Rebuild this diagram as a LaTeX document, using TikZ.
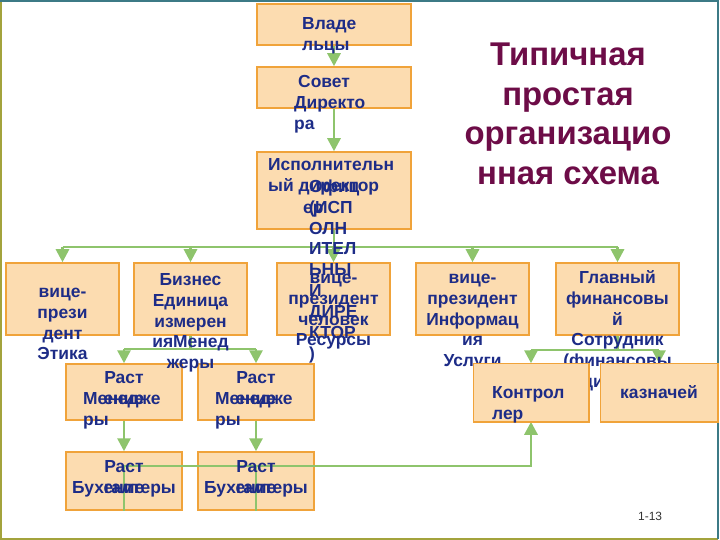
\documentclass[tikz,border=0pt]{standalone}
\usepackage{fontspec}
\setmainfont{Liberation Sans}
\usetikzlibrary{arrows.meta}
\definecolor{boxfill}{HTML}{FCDCB0}
\definecolor{boxline}{HTML}{F0A33A}
\definecolor{linkgreen}{HTML}{8EC46C}
\definecolor{txtblue}{HTML}{1D2C87}
\definecolor{ttlred}{HTML}{6D0C47}
\definecolor{frameA}{HTML}{3C7A86}
\definecolor{frameB}{HTML}{A3A33C}
\newcommand\sr{\rule{0pt}{14bp}}
\begin{document}
\begin{tikzpicture}[x=1bp,y=-1bp,
  box/.style={draw=boxline, fill=boxfill, line width=1.5bp, inner sep=0pt},
  txt/.style={text=txtblue, font=\bfseries\fontsize{17.5}{21}\selectfont, inner sep=0pt},
  link/.style={draw=linkgreen, line width=2.8bp},
  arr/.style={link, -{Triangle[width=13bp,length=13bp]}}]
\useasboundingbox (0,0) rectangle (720,540);
% frame
\draw[frameB, line width=2bp] (1,1) -- (1,538.5) -- (717.5,538.5);
\draw[frameA, line width=2bp] (0,1) -- (717.5,1) -- (717.5,538.5);
% boxes
\node[box, minimum width=154bp, minimum height=41bp] (own) at (334,24.5) {};
\node[box, minimum width=154bp, minimum height=41bp] (board) at (334,87.5) {};
\node[box, minimum width=154bp, minimum height=77bp] (exec) at (334,190.5) {};
\node[box, minimum width=113bp, minimum height=72bp] (vp1) at (62.5,299) {};
\node[box, minimum width=113bp, minimum height=72bp] (bu) at (190.5,299) {};
\node[box, minimum width=113bp, minimum height=72bp] (hr) at (333.5,299) {};
\node[box, minimum width=113bp, minimum height=72bp] (is) at (472.5,299) {};
\node[box, minimum width=123bp, minimum height=72bp] (cfo) at (617.5,299) {};
\node[box, minimum width=116bp, minimum height=56bp] (pm1) at (124,392) {};
\node[box, minimum width=116bp, minimum height=56bp] (pm2) at (256,392) {};
\node[box, minimum width=116bp, minimum height=58bp] (pa1) at (124,481) {};
\node[box, minimum width=116bp, minimum height=58bp] (pa2) at (256,481) {};
\node[box, minimum width=114bp, minimum height=57bp] (ctrl) at (531,392.5) {};
\node[box, minimum width=116bp, minimum height=57bp] (treas) at (659,392.5) {};
% connectors
\draw[arr] (own.south) -- (board.north);
\draw[arr] (board.south) -- (exec.north);
\coordinate (busA) at (334,247);
\draw[link] (exec.south) -- (busA);
\draw[link] (vp1.north |- busA) -- (cfo.north |- busA);
\foreach \n in {vp1,bu,hr,is,cfo} \draw[arr] (\n.north |- busA) -- (\n.north);
\coordinate (busB) at (190.5,349);
\draw[link] (bu.south) -- (busB);
\draw[link] (pm1.north |- busB) -- (pm2.north |- busB);
\draw[arr] (pm1.north |- busB) -- (pm1.north);
\draw[arr] (pm2.north |- busB) -- (pm2.north);
\coordinate (busC) at (617.5,350);
\draw[link] (cfo.south) -- (busC);
\draw[link] (ctrl.north |- busC) -- (treas.north |- busC);
\draw[arr] (ctrl.north |- busC) -- (ctrl.north);
\draw[arr] (treas.north |- busC) -- (treas.north);
\draw[arr] (pm1.south) -- (pa1.north);
\draw[arr] (pm2.south) -- (pa2.north);
\coordinate (busD) at (124,466);
\draw[arr] (pa1.south) -- (busD) -- (ctrl.south |- busD) -- (ctrl.south);
\draw[link] (pa2.south) -- (pa2.south |- busD);
% texts
\node[txt, align=left, anchor=north west] (t-own) at (302,15) {\sr Владе\\льцы};
\node[txt, align=left, anchor=north west] (t-board) at (294,73) {\sr\hspace{4bp}Совет\\Директо\\ра};
\node[txt, align=left, anchor=north west] (t-exec) at (268,156) {\sr Исполнительн\\ый директор};
\node[txt, align=left, anchor=north west] (t-off) at (309,178) {\sr Офиц\\\makebox[0pt][l]{\hspace{-6bp}ер}(ИСП\\ОЛН\\ИТЕЛ\\ЬНЫ\\Й\\ДИРЕ\\КТОР\\)};
\node[txt, align=center, anchor=north] (t-vp1) at (62.5,283) {\sr вице-\\прези\\дент\\Этика};
\node[txt, align=center, anchor=north] (t-bu) at (190.5,271) {\sr Бизнес\\Единица\\измерен\\ияМенед\\жеры};
\node[txt, align=center, anchor=north] (t-hr) at (333.5,269) {\sr вице-\\президент\\человек\\Ресурсы};
\node[txt, align=center, anchor=north] (t-is) at (472.5,269) {\sr вице-\\президент\\Информац\\ия\\Услуги};
\node[txt, align=center, anchor=north] (t-cfo) at (617.5,269) {\sr Главный\\финансовы\\й\\Сотрудник\\(финансовы\\й директор)};
\node[txt, align=center, anchor=north] (t-pm1a) at (124,369) {\sr Раст\\ение};
\node[txt, align=left, anchor=north west] (t-pm1b) at (83,390) {\sr Менедже\\ры};
\node[txt, align=center, anchor=north] (t-pm2a) at (256,369) {\sr Раст\\ение};
\node[txt, align=left, anchor=north west] (t-pm2b) at (215,390) {\sr Менедже\\ры};
\node[txt, align=center, anchor=north] (t-pa1a) at (124,458) {\sr Раст\\ение};
\node[txt, anchor=north] (t-pa1b) at (124,479) {\sr Бухгалтеры};
\node[txt, align=center, anchor=north] (t-pa2a) at (256,458) {\sr Раст\\ение};
\node[txt, anchor=north] (t-pa2b) at (256,479) {\sr Бухгалтеры};
% controller and treasurer boxes cover the overflowing text
\path[box] (ctrl.north west) rectangle (ctrl.south east);
\path[box] (treas.north west) rectangle (treas.south east);
\node[txt, align=left, anchor=north west] (t-ctrl) at (492,384) {\sr Контрол\\лер};
\node[txt, anchor=north] (t-treas) at (659,384) {\sr казначей};
% title
\node[text=ttlred, font=\bfseries\fontsize{33}{40}\selectfont, align=center, anchor=north, inner sep=0pt] (title) at (568,41) {\rule{0pt}{24bp}Типичная\\простая\\организацио\\нная схема};
\node[anchor=base west, inner sep=0pt, font=\fontsize{12}{14}\selectfont, text=black!80] (pg) at (638,520) {1-13};
\end{tikzpicture}
\end{document}
